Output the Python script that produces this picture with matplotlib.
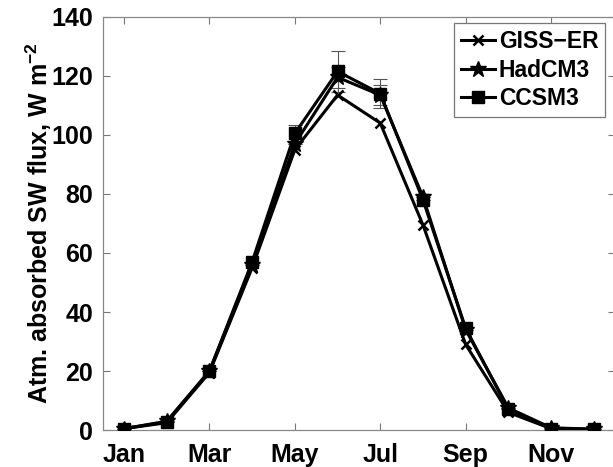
import matplotlib
matplotlib.use("Agg")
import matplotlib.pyplot as plt

months = list(range(1, 13))
month_ticks = [1, 3, 5, 7, 9, 11]
month_labels = ["Jan", "Mar", "May", "Jul", "Sep", "Nov"]

giss = [0.5, 2.5, 19.5, 55, 95, 113.5, 104, 69.5, 29, 6, 0.5, 0.2]
hadcm3 = [0.5, 3.0, 20, 56, 97, 119.5, 113.5, 79, 34, 7.5, 0.8, 0.3]
ccsm3 = [0.5, 2.8, 20, 57, 100.5, 121.5, 114, 78, 34.5, 7, 0.5, 0.3]

had_err = [0, 0, 0, 0, 0, 3.5, 3.5, 0, 0, 0, 0, 0]
ccsm_err = [0, 0, 0, 0, 2.8, 7.0, 4.8, 0, 0, 0, 0, 0]

plt.rcParams['font.family'] = ['Liberation Sans', 'DejaVu Sans']
plt.rcParams['font.weight'] = 'bold'
plt.rcParams['mathtext.fontset'] = 'custom'
plt.rcParams['mathtext.rm'] = 'Liberation Sans:bold'
plt.rcParams['mathtext.it'] = 'Liberation Sans:bold'
plt.rcParams['mathtext.bf'] = 'Liberation Sans:bold'
plt.rcParams['mathtext.default'] = 'bf'

fig = plt.figure(figsize=(6.13, 4.67), dpi=100)
ax = fig.add_axes([0.1675, 0.079, 0.836, 0.885])

lw = 2.2
ax.errorbar(months, hadcm3, yerr=had_err, color='#555555', lw=0, elinewidth=0.8, capsize=5, capthick=0.8, zorder=1)
ax.errorbar(months, ccsm3, yerr=ccsm_err, color='#555555', lw=0, elinewidth=0.8, capsize=5, capthick=0.8, zorder=1)

ax.plot(months, giss, color='black', lw=lw, marker='x', ms=7, mew=1.8, label='GISS\u2212ER', zorder=3)
ax.plot(months, hadcm3, color='black', lw=lw, marker='*', ms=12, label='HadCM3', zorder=3)
ax.plot(months, ccsm3, color='black', lw=lw, marker='s', ms=8.5, label='CCSM3', zorder=3)

ax.set_xlim(0.5, 12.5)
ax.set_ylim(0, 140)
ax.set_xticks(month_ticks)
ax.set_xticklabels(month_labels)
ax.set_yticks(range(0, 141, 20))
ax.tick_params(direction='in', length=5, width=0.8, color='#777777', labelsize=18,
               top=True, right=True, pad=7)
ax.tick_params(axis='x', pad=9)
for lab in ax.get_xticklabels() + ax.get_yticklabels():
    lab.set_fontweight('bold')
for s in ax.spines.values():
    s.set_color('#888888')
    s.set_linewidth(0.9)

ax.set_ylabel('Atm. absorbed SW flux, W m$^{-2}$', fontsize=18, fontweight='bold', labelpad=-2)

leg = ax.legend(loc='upper right', bbox_to_anchor=(0.981, 0.985), borderaxespad=0,
                prop={'weight': 'bold', 'size': 16.5},
                handlelength=1.5, handletextpad=0.15, labelspacing=0.25, borderpad=0.3,
                fancybox=False, framealpha=1, edgecolor='#777777')
leg.get_frame().set_linewidth(0.9)

fig.savefig('out.png', dpi=100)
